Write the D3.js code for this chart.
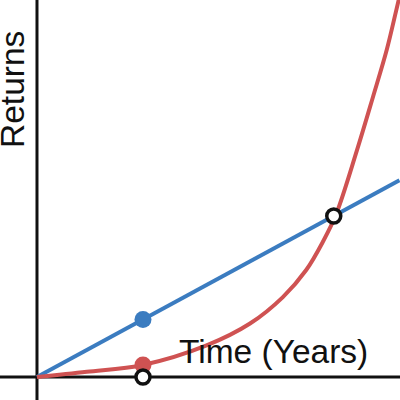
<!DOCTYPE html>
<html>
<head>
<meta charset="UTF-8">
<script src="https://cdn.jsdelivr.net/npm/d3@7"></script>
<style>
body { margin: 0; background: #fff; }
text { font-family: "Liberation Sans", Arial, sans-serif; fill: #111; }
</style>
</head>
<body>
<script>
// time in years, returns in arbitrary units
var linearT = [0, 3.42];
var linearR = [0, 3.42];

var expT = [0, 0.47, 1.0, 1.6, 2.01, 2.32, 2.54, 2.70, 2.82, 3.02, 3.17, 3.30, 3.39, 3.45];
var expR = [0, 0.09, 0.21, 0.55, 0.93, 1.39, 1.86, 2.36, 2.82, 3.95, 4.87, 5.69, 6.38, 6.85];

var filledT = [1, 1];
var filledR = [1, 0.21];
var openT = [1, 2.8];
var openR = [0, 2.8];

var xLabel = "Time (Years)";
var yLabel = "Returns";

var w = 400, h = 400;

var svg = d3.select("body").append("svg")
    .attr("width", w)
    .attr("height", h);

var x = d3.scaleLinear().domain([-0.349, 3.425]).range([0, w]);
var y = d3.scaleLinear().domain([-0.4, 6.556]).range([h, 0]);

// axes through the origin
svg.append("line")
    .attr("x1", x(0)).attr("x2", x(0))
    .attr("y1", 0).attr("y2", h)
    .attr("stroke", "#111").attr("stroke-width", 3);
svg.append("line")
    .attr("x1", 0).attr("x2", w)
    .attr("y1", y(0)).attr("y2", y(0))
    .attr("stroke", "#111").attr("stroke-width", 3);

var line = d3.line()
    .x(function(d){ return x(d[0]); })
    .y(function(d){ return y(d[1]); });

svg.append("path")
    .datum(d3.zip(linearT, linearR))
    .attr("d", line)
    .attr("fill", "none")
    .attr("stroke", "#3b7cc0")
    .attr("stroke-width", 4);

svg.append("path")
    .datum(d3.zip(expT, expR))
    .attr("d", line.curve(d3.curveCatmullRom))
    .attr("fill", "none")
    .attr("stroke", "#cf5252")
    .attr("stroke-width", 4);

var colors = ["#3b7cc0", "#cf5252"];
svg.selectAll(".dot")
    .data(d3.zip(filledT, filledR))
    .enter().append("circle")
    .attr("class", "dot")
    .attr("cx", function(d){ return x(d[0]); })
    .attr("cy", function(d){ return y(d[1]); })
    .attr("r", 8.5)
    .attr("fill", function(d, i){ return colors[i]; });

svg.append("text")
    .attr("x", 179)
    .attr("y", 363)
    .attr("font-size", 33.5)
    .text(xLabel);

svg.append("text")
    .attr("transform", "translate(24,148) rotate(-90)")
    .attr("font-size", 33.5)
    .text(yLabel);

svg.selectAll(".open")
    .data(d3.zip(openT, openR))
    .enter().append("circle")
    .attr("class", "open")
    .attr("cx", function(d){ return x(d[0]); })
    .attr("cy", function(d){ return y(d[1]); })
    .attr("r", 7)
    .attr("fill", "#fff")
    .attr("stroke", "#111")
    .attr("stroke-width", 3.5);
</script>
</body>
</html>
